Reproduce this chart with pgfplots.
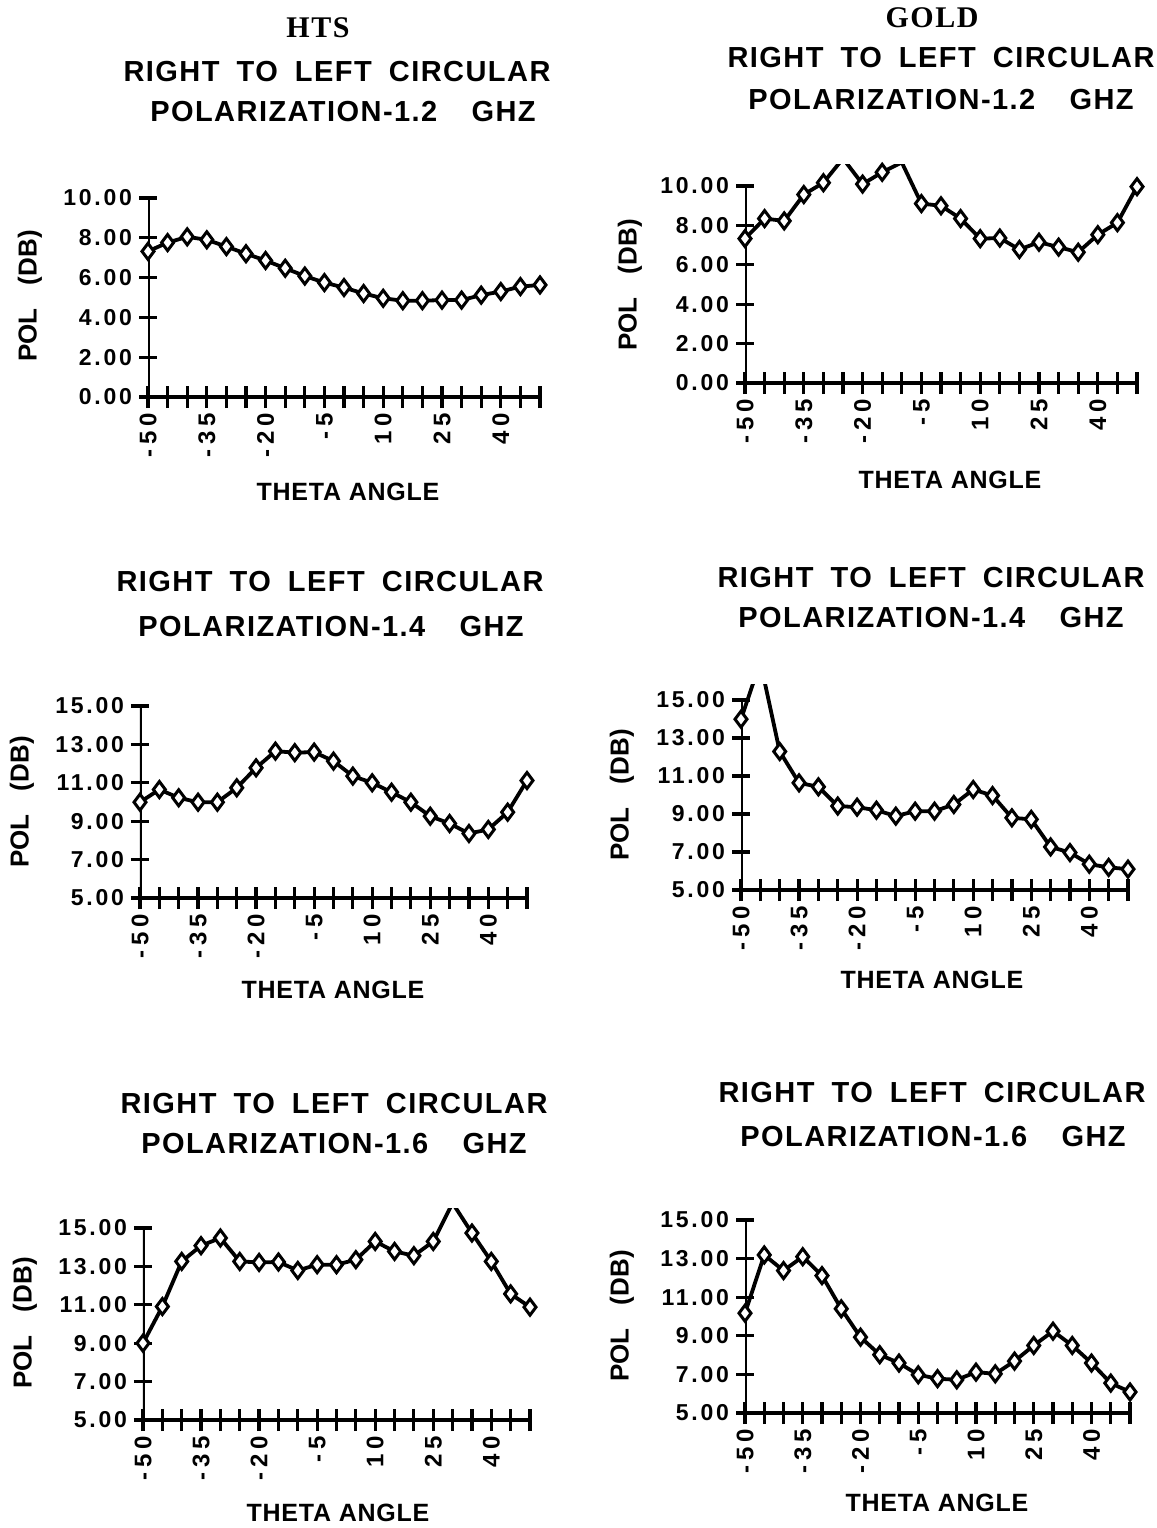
\documentclass[border=0pt]{standalone}
\usepackage{fontspec}
\setmainfont{Liberation Sans}
\newfontfamily\ttlfont{Liberation Sans}[LetterSpace=5,WordSpace=1.8]
\newfontfamily\lblfont{Liberation Sans}[LetterSpace=3]
\newfontfamily\ytfont{Liberation Sans}[LetterSpace=12]
\newfontfamily\xtfont{Liberation Sans}[LetterSpace=20]
\newfontfamily\hdfont{Liberation Serif}[LetterSpace=5]
\usepackage{pgfplots}
\usepackage{pgfplotstable}
\pgfplotsset{compat=1.18}

% theta (deg) vs polarization (dB)
\pgfplotstableread{
x y
-50 7.32
-45 7.76
-40 8.05
-35 7.90
-30 7.56
-25 7.20
-20 6.86
-15 6.47
-10 6.08
-5 5.75
0 5.50
5 5.20
10 4.96
15 4.84
20 4.84
25 4.87
30 4.87
35 5.12
40 5.30
45 5.55
50 5.63
}\htsA
\pgfplotstableread{
x y
-50 7.33
-45 8.35
-40 8.23
-35 9.57
-30 10.17
-25 11.40
-20 10.10
-15 10.70
-10 11.20
-5 9.11
0 9.00
5 8.35
10 7.33
15 7.36
20 6.78
25 7.15
30 6.90
35 6.64
40 7.53
45 8.14
50 9.97
}\goldA
\pgfplotstableread{
x y
-50 9.99
-45 10.65
-40 10.22
-35 9.99
-30 9.99
-25 10.74
-20 11.78
-15 12.65
-10 12.57
-5 12.60
0 12.13
5 11.35
10 11.00
15 10.51
20 9.99
25 9.26
30 8.88
35 8.36
40 8.57
45 9.47
50 11.12
}\htsB
\pgfplotstableread{
x y
-50 13.99
-45 17.00
-40 12.29
-35 10.64
-30 10.43
-25 9.42
-20 9.36
-15 9.20
-10 8.89
-5 9.15
0 9.15
5 9.50
10 10.29
15 9.97
20 8.80
25 8.72
30 7.27
35 6.97
40 6.36
45 6.19
50 6.10
}\goldB
\pgfplotstableread{
x y
-50 9.00
-45 10.91
-40 13.26
-35 14.08
-30 14.48
-25 13.26
-20 13.21
-15 13.23
-10 12.79
-5 13.09
0 13.09
5 13.35
10 14.30
15 13.78
20 13.56
25 14.30
30 16.30
35 14.74
40 13.26
45 11.57
50 10.88
}\htsC
\pgfplotstableread{
x y
-50 10.17
-45 13.19
-40 12.38
-35 13.10
-30 12.12
-25 10.40
-20 8.93
-15 8.02
-10 7.59
-5 6.98
0 6.78
5 6.72
10 7.12
15 7.03
20 7.69
25 8.50
30 9.24
35 8.50
40 7.59
45 6.55
50 6.09
}\goldC

\pgfplotsset{
  polax/.style={
    scale only axis, anchor=south west,
    axis lines*=left, tick pos=left,
    x axis line style={line width=1.8pt, -},
    y axis line style={draw=none},
    xmin=-50, xmax=50,
    xtick={-50,-45,...,50},
    xticklabels={-50,,,-35,,,-20,,,-5,,,10,,,25,,,40,,},
    tick align=center, major tick length=9pt,
    every tick/.style={black, line width=1.6pt},
    xtick style={/pgfplots/major tick length=11pt},
    xticklabel style={font=\xtfont\bfseries\fontsize{12}{12}\selectfont, rotate=90, anchor=east},
    yticklabel style={font=\ytfont\bfseries\fontsize{11.5}{11.5}\selectfont,
      /pgf/number format/fixed, /pgf/number format/fixed zerofill,
      /pgf/number format/precision=2, /pgf/number format/assume math mode=true},
  },
  dataline/.style={black, line width=1.9pt, no markers},
  datamarks/.style={only marks, mark=diamond*, mark size=4pt,
    mark options={fill=white, draw=black, line width=1.5pt, solid}},
}
\tikzset{yline/.style={line width=1.8pt}}

\begin{document}
\begin{tikzpicture}
\useasboundingbox (0,0) rectangle (578.5pt,-764pt);

% HTS 1.2 GHz
\begin{axis}[polax, at={(74pt,-198.5pt)}, width=196pt, height=99.5pt,
  ymin=0, ymax=10, ytick={0,2,...,10}]
\addplot[dataline] table {\htsA};
\draw[yline] (axis cs:-50,0) -- (axis cs:-50,10);
\addplot[datamarks, restrict y to domain=0:10] table {\htsA};
\end{axis}

% GOLD 1.2 GHz
\begin{axis}[polax, at={(372.5pt,-191.5pt)}, width=196pt, height=109.3pt,
  ymin=0, ymax=11.1, ytick={0,2,...,10}]
\addplot[dataline] table {\goldA};
\draw[yline] (axis cs:-50,0) -- (axis cs:-50,10);
\addplot[datamarks, restrict y to domain=0:11.1] table {\goldA};
\end{axis}

% HTS 1.4 GHz
\begin{axis}[polax, at={(70pt,-449pt)}, width=193.5pt, height=96pt,
  ymin=5, ymax=15, ytick={5,7,...,15}]
\addplot[dataline] table {\htsB};
\draw[yline] (axis cs:-50,5) -- (axis cs:-50,15);
\addplot[datamarks, restrict y to domain=5:15] table {\htsB};
\end{axis}

% GOLD 1.4 GHz
\begin{axis}[polax, at={(370.5pt,-445pt)}, width=193.5pt, height=102.6pt,
  ymin=5, ymax=15.8, ytick={5,7,...,15}]
\addplot[dataline] table {\goldB};
\draw[yline] (axis cs:-50,5) -- (axis cs:-50,15);
\addplot[datamarks, restrict y to domain=5:15.8] table {\goldB};
\end{axis}

% HTS 1.6 GHz
\begin{axis}[polax, at={(71.5pt,-710pt)}, width=193.5pt, height=105.6pt,
  ymin=5, ymax=16, ytick={5,7,...,15}]
\addplot[dataline] table {\htsC};
\draw[yline] (axis cs:-50,5) -- (axis cs:-50,15);
\addplot[datamarks, restrict y to domain=5:16] table {\htsC};
\end{axis}

% GOLD 1.6 GHz
\begin{axis}[polax, at={(372.5pt,-706.5pt)}, width=192.5pt, height=96.5pt,
  ymin=5, ymax=15, ytick={5,7,...,15}]
\addplot[dataline] table {\goldC};
\draw[yline] (axis cs:-50,5) -- (axis cs:-50,15);
\addplot[datamarks, restrict y to domain=5:15] table {\goldC};
\end{axis}

% text, placed in pixel units of the scan
\begin{scope}[x=0.5pt, y=-0.5pt]
\tikzset{
  hd/.style={font=\hdfont\bfseries\fontsize{15}{15}\selectfont, inner sep=0pt},
  ttl/.style={font=\ttlfont\bfseries\fontsize{14.5}{14.5}\selectfont, inner sep=0pt},
  xl/.style={font=\lblfont\bfseries\fontsize{12.5}{12.5}\selectfont, inner sep=0pt},
  yl/.style={font=\bfseries\fontsize{13}{13}\selectfont, inner sep=0pt, rotate=90},
}
\node[hd] at (318,28) {HTS};
\node[hd] at (932,18) {GOLD};

\node[ttl] at (337,72) {RIGHT TO LEFT CIRCULAR};
\node[ttl] at (343,112) {POLARIZATION-1.2~ GHZ};
\node[ttl] at (941,58) {RIGHT TO LEFT CIRCULAR};
\node[ttl] at (941,100) {POLARIZATION-1.2~ GHZ};

\node[ttl] at (330,582) {RIGHT TO LEFT CIRCULAR};
\node[ttl] at (331,627) {POLARIZATION-1.4~ GHZ};
\node[ttl] at (931,578) {RIGHT TO LEFT CIRCULAR};
\node[ttl] at (931,618) {POLARIZATION-1.4~ GHZ};

\node[ttl] at (334,1104) {RIGHT TO LEFT CIRCULAR};
\node[ttl] at (334,1144) {POLARIZATION-1.6~ GHZ};
\node[ttl] at (932,1093) {RIGHT TO LEFT CIRCULAR};
\node[ttl] at (933,1137) {POLARIZATION-1.6~ GHZ};

\node[xl] at (348,492) {THETA ANGLE};
\node[xl] at (950,480) {THETA ANGLE};
\node[xl] at (333,990) {THETA ANGLE};
\node[xl] at (932,980) {THETA ANGLE};
\node[xl] at (338,1513) {THETA ANGLE};
\node[xl] at (937,1503) {THETA ANGLE};

\node[yl] at (30,296) {POL\hspace{0.9em}(DB)};
\node[yl] at (630,285) {POL\hspace{0.9em}(DB)};
\node[yl] at (22,802) {POL\hspace{0.9em}(DB)};
\node[yl] at (622,795) {POL\hspace{0.9em}(DB)};
\node[yl] at (25,1323) {POL\hspace{0.9em}(DB)};
\node[yl] at (622,1316) {POL\hspace{0.9em}(DB)};
\end{scope}
\end{tikzpicture}
\end{document}
